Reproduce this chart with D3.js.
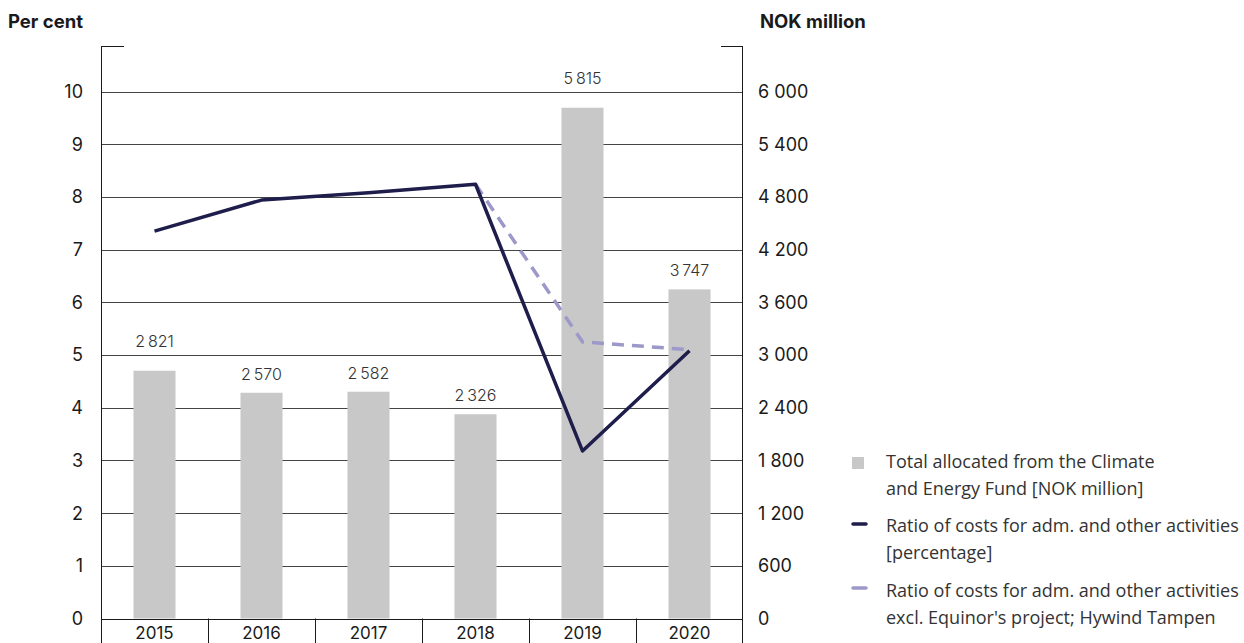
<!DOCTYPE html>
<html>
<head>
<meta charset="utf-8">
<script src="https://cdn.jsdelivr.net/npm/d3@7"></script>
<style>
  html, body { margin: 0; padding: 0; background: #fff; }
  svg { display: block; }
  .tick-label { font-family: Inter, "Noto Sans", sans-serif; font-size: 18px; fill: #1a1a1a; }
  .year-label { font-family: Inter, "Noto Sans", sans-serif; font-size: 17px; fill: #1a1a1a; }
  .axis-title { font-family: Inter, "Noto Sans", sans-serif; font-size: 18.5px; font-weight: 700; fill: #1a1a1a; }
  .bar-label { font-family: Inter, "Noto Sans", sans-serif; font-size: 16px; font-weight: 300; fill: #333; }
  .legend-text { font-family: "Open Sans", "Noto Sans", sans-serif; font-size: 18px; fill: #333; }
</style>
</head>
<body>
<svg id="chart" width="1244" height="643"></svg>
<script>
// Climate and Energy Fund: allocations (bars, right axis) and cost ratios (lines, left axis)
const years = ["2015", "2016", "2017", "2018", "2019", "2020"];
const allocated = [2821, 2570, 2582, 2326, 5815, 3747];            // NOK million
const costRatio = [7.35, 7.94, 8.08, 8.24, 3.18, 5.08];           // per cent
const costRatioExclHywind = [null, null, null, 8.24, 5.25, 5.1];  // per cent
const leftTicks = [0, 1, 2, 3, 4, 5, 6, 7, 8, 9, 10];
const rightTicks = [0, 600, 1200, 1800, 2400, 3000, 3600, 4200, 4800, 5400, 6000];
const legendLabels = [
  ["Total allocated from the Climate", "and Energy Fund [NOK million]"],
  ["Ratio of costs for adm. and other activities", "[percentage]"],
  ["Ratio of costs for adm. and other activities", "excl. Equinor's project; Hywind Tampen"]
];

(function draw() {
  const colors = { bar: "#c8c8c8", line: "#1e1d4b", dashed: "#9c99c9", grid: "#444", axis: "#1a1a1a" };
  const fmt = n => d3.format(",")(n).replace(/,/g, "\u2009");
  const fmtTick = n => n >= 1000 ? d3.format(",")(n).replace(/,/g, " ") : String(n);

  const svg = d3.select("#chart");
  const H = 643;
  const plotLeft = 101, plotRight = 743, frameTop = 46, zeroY = 618.5, tenY = 91.5;

  const x = d3.scaleBand().domain(years).range([plotLeft, plotRight]).padding(0);
  const yL = d3.scaleLinear().domain([0, 10]).range([zeroY, tenY]);
  const yR = d3.scaleLinear().domain([0, 6000]).range([zeroY, tenY]);
  const barW = x.bandwidth() * 0.393;
  const cx = d => x(d) + x.bandwidth() / 2;

  // gridlines
  svg.append("g").selectAll("line").data(leftTicks.filter(t => t > 0)).join("line")
    .attr("x1", plotLeft).attr("x2", plotRight)
    .attr("y1", d => Math.round(yL(d)) + 0.5).attr("y2", d => Math.round(yL(d)) + 0.5)
    .attr("stroke", colors.grid).attr("stroke-width", 1.2);

  // bars (drawn over the gridlines)
  svg.append("g").selectAll("rect").data(years).join("rect")
    .attr("x", d => cx(d) - barW / 2)
    .attr("width", barW)
    .attr("y", (d, i) => yR(allocated[i]))
    .attr("height", (d, i) => zeroY - yR(allocated[i]))
    .attr("fill", colors.bar);

  // bar value labels, lifted clear of any gridline they would touch
  const gridYs = leftTicks.map(t => yL(t));
  svg.append("g").selectAll("text").data(years).join("text")
    .attr("class", "bar-label")
    .attr("text-anchor", "middle")
    .attr("x", d => cx(d))
    .attr("y", (d, i) => {
      let base = yR(allocated[i]) - 13;
      const hit = gridYs.find(g => g > base - 12 && g < base + 6);
      if (hit !== undefined) base = hit - 8;
      return base;
    })
    .text((d, i) => fmt(allocated[i]));

  // frame: axes, top corner stubs, baseline and category dividers
  const frame = svg.append("g").attr("stroke", colors.axis).attr("stroke-width", 1).attr("fill", "none");
  frame.append("line").attr("x1", plotLeft + 0.5).attr("x2", plotLeft + 0.5).attr("y1", frameTop).attr("y2", H);
  frame.append("line").attr("x1", plotRight - 0.5).attr("x2", plotRight - 0.5).attr("y1", frameTop).attr("y2", H);
  frame.append("line").attr("x1", plotLeft).attr("x2", plotLeft + 23).attr("y1", frameTop + 0.5).attr("y2", frameTop + 0.5);
  frame.append("line").attr("x1", plotRight - 22).attr("x2", plotRight).attr("y1", frameTop + 0.5).attr("y2", frameTop + 0.5);
  frame.append("line").attr("x1", plotLeft).attr("x2", plotRight).attr("y1", Math.round(zeroY) + 0.5).attr("y2", Math.round(zeroY) + 0.5);
  frame.selectAll("line.div").data(years.slice(1)).join("line").attr("class", "div")
    .attr("x1", d => Math.round(x(d)) + 0.5).attr("x2", d => Math.round(x(d)) + 0.5)
    .attr("y1", zeroY).attr("y2", H);

  // category labels
  svg.append("g").selectAll("text").data(years).join("text")
    .attr("class", "year-label").attr("text-anchor", "middle")
    .attr("x", d => cx(d)).attr("y", 638.5).text(d => d);

  // left and right tick labels
  svg.append("g").selectAll("text").data(leftTicks).join("text")
    .attr("class", "tick-label").attr("text-anchor", "end")
    .attr("x", 83).attr("y", d => yL(d)).attr("dy", "0.36em").text(d => d);
  svg.append("g").selectAll("text").data(rightTicks).join("text")
    .attr("class", "tick-label").attr("text-anchor", "start")
    .attr("x", 758).attr("y", d => yR(d)).attr("dy", "0.36em").text(fmtTick);

  // axis titles
  svg.append("text").attr("class", "axis-title").attr("x", 8).attr("y", 28).text("Per cent");
  svg.append("text").attr("class", "axis-title").attr("x", 760).attr("y", 28).text("NOK million");

  // ratio lines
  const lineGen = d3.line().defined(d => d.v !== null).x(d => cx(d.year)).y(d => yL(d.v));
  svg.append("path")
    .datum(years.map((y, i) => ({ year: y, v: costRatioExclHywind[i] })))
    .attr("d", lineGen).attr("fill", "none")
    .attr("stroke", colors.dashed).attr("stroke-width", 3.5).attr("stroke-dasharray", "12,8");
  svg.append("path")
    .datum(years.map((y, i) => ({ year: y, v: costRatio[i] })))
    .attr("d", lineGen).attr("fill", "none")
    .attr("stroke", colors.line).attr("stroke-width", 3.5).attr("stroke-linejoin", "round");

  // legend
  const lg = svg.append("g").attr("transform", "translate(852,0)");
  const rowY = [468, 532, 597];
  lg.append("rect").attr("x", 0).attr("y", rowY[0] - 11).attr("width", 12).attr("height", 12).attr("fill", colors.bar);
  lg.append("line").attr("x1", 1).attr("x2", 14).attr("y1", rowY[1] - 8).attr("y2", rowY[1] - 8)
    .attr("stroke", colors.line).attr("stroke-width", 3.5).attr("stroke-linecap", "round");
  lg.append("line").attr("x1", 1).attr("x2", 14).attr("y1", rowY[2] - 9).attr("y2", rowY[2] - 9)
    .attr("stroke", colors.dashed).attr("stroke-width", 3.5).attr("stroke-linecap", "round");
  legendLabels.forEach((lines, i) => {
    const t = lg.append("text").attr("class", "legend-text").attr("x", 34).attr("y", rowY[i]);
    lines.forEach((s, j) => t.append("tspan").attr("x", 34).attr("dy", j === 0 ? 0 : 27).text(s));
  });
})();
</script>
</body>
</html>
